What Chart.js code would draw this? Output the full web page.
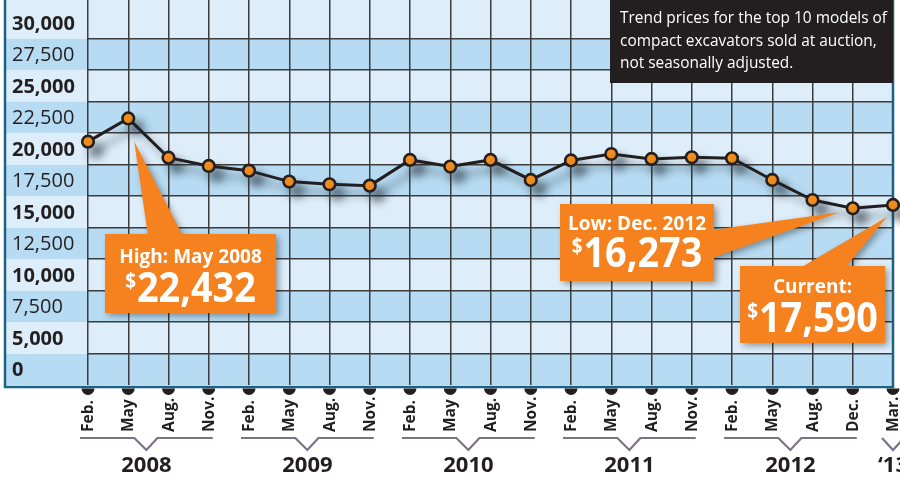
<!DOCTYPE html>
<html>
<head>
<meta charset="utf-8">
<script src="https://cdn.jsdelivr.net/npm/chart.js@4.4.1/dist/chart.umd.min.js"></script>
<style>
  html, body { margin: 0; padding: 0; background: #fff; }
</style>
</head>
<body>
<canvas id="trendChart" width="900" height="478"></canvas>
<script>
// month ticks along the bottom, one per quarterly report
var monthLabels = ['Feb.', 'May', 'Aug.', 'Nov.',
                   'Feb.', 'May', 'Aug.', 'Nov.',
                   'Feb.', 'May', 'Aug.', 'Nov.',
                   'Feb.', 'May', 'Aug.', 'Nov.',
                   'Feb.', 'May', 'Aug.', 'Dec.',
                   'Mar.'];
var yearLabels = ['2008', '2009', '2010', '2011', '2012', '\u201813'];
var monthsPerYear = [4, 4, 4, 4, 4, 1];

// trend price in dollars
var trendPrices = [20560, 22400, 19290, 18630, 18260, 17390, 17180, 17070,
                   19110, 18580, 19110, 17520, 19070, 19580, 19190, 19320,
                   19240, 17520, 15930, 15270, 15540];

// each label sits in the middle of its band (the bottom band is the broken "0")
var yTickValues = [2500, 5000, 7500, 10000, 12500, 15000, 17500, 20000, 22500, 25000, 27500, 30000];
var yTickLabels = ['0', '5,000', '7,500', '10,000', '12,500', '15,000', '17,500', '20,000', '22,500', '25,000', '27,500', '30,000'];

var noteLines = ['Trend prices for the top 10 models of',
                 'compact excavators sold at auction,',
                 'not seasonally adjusted.'];

var calloutTitles = ['High: May 2008', 'Low: Dec. 2012', 'Current:'];
var calloutAmounts = ['22,432', '16,273', '17,590'];
var calloutIndex = [1, 19, 20];

var DARK = '#231f20';
var ORANGE = '#f5821f';
var TEAL = '#1c6282';
var FONT = '"Open Sans", "Noto Sans", sans-serif';
var HALF_BAND = 1250;

// band edges are where the grid lines go
var bandEdges = yTickValues.slice(0, -1).map(function(v) { return v + HALF_BAND; });

var bandsPlugin = {
  id: 'bands',
  beforeDraw: function(chart) {
    var c = chart.ctx, area = chart.chartArea, y = chart.scales.y;
    c.save();
    c.fillStyle = '#ffffff';
    c.fillRect(0, 0, chart.width, chart.height);
    yTickValues.forEach(function(v, i) {
      var top = i === yTickValues.length - 1 ? area.top : y.getPixelForValue(v + HALF_BAND);
      var bottom = y.getPixelForValue(v - HALF_BAND);
      c.fillStyle = i % 2 === 0 ? '#b7dbf2' : '#ddeefa';
      c.fillRect(5, top, area.right - 5, bottom - top);
    });
    c.restore();
  }
};

// frame + soft shadow under the line
var frameShadowPlugin = {
  id: 'frameShadow',
  beforeDatasetsDraw: function(chart) {
    var c = chart.ctx, area = chart.chartArea;
    c.save();
    c.strokeStyle = TEAL;
    c.lineWidth = 2.5;
    c.beginPath();
    c.moveTo(5, 0);
    c.lineTo(5, area.bottom + 2);
    c.lineTo(area.right, area.bottom + 2);
    c.lineTo(area.right, 0);
    c.stroke();
    // black half dots under each tick
    c.fillStyle = DARK;
    chart.scales.x.ticks.forEach(function(t, i) {
      var x = chart.scales.x.getPixelForValue(i);
      c.beginPath();
      c.arc(x, area.bottom + 3.5, 6.5, 0, Math.PI);
      c.fill();
    });
    c.restore();

    c.save();
    c.shadowColor = 'rgba(30, 40, 50, 0.5)';
    c.shadowBlur = 8;
    c.shadowOffsetX = 8;
    c.shadowOffsetY = 9;
  },
  afterDatasetsDraw: function(chart) {
    chart.ctx.restore();
  }
};

function drawCallout(c, box, tip, base, title, amount, titleDy, amountDy) {
  c.save();
  c.fillStyle = ORANGE;
  c.shadowColor = 'rgba(0, 0, 0, 0.35)';
  c.shadowBlur = 6;
  c.shadowOffsetX = 3;
  c.shadowOffsetY = 3;
  c.beginPath();
  c.rect(box.x, box.y, box.w, box.h);
  c.moveTo(base[0][0], base[0][1]);
  c.lineTo(tip.x, tip.y);
  c.lineTo(base[1][0], base[1][1]);
  c.closePath();
  c.fill();
  c.restore();

  var cx = box.x + box.w / 2;
  c.save();
  c.fillStyle = '#ffffff';
  c.textBaseline = 'alphabetic';
  c.textAlign = 'center';
  c.font = 'bold 19px ' + FONT;
  c.fillText(title, cx, box.y + titleDy);

  c.translate(cx, box.y + amountDy);
  c.scale(0.9, 1);
  c.font = 'bold 21px ' + FONT;
  var wd = c.measureText('$').width;
  c.font = 'bold 42px ' + FONT;
  var wn = c.measureText(amount).width;
  var start = -(wd + 1 + wn) / 2;
  c.textAlign = 'left';
  c.fillText(amount, start + wd + 1, 0);
  c.font = 'bold 21px ' + FONT;
  c.fillText('$', start, -14);
  c.restore();
}

var decorPlugin = {
  id: 'decor',
  afterDraw: function(chart) {
    var c = chart.ctx, area = chart.chartArea;
    var x = chart.scales.x, y = chart.scales.y;
    c.save();

    // y labels inside the bands, bold on the light bands
    c.fillStyle = DARK;
    c.textAlign = 'left';
    c.textBaseline = 'alphabetic';
    yTickValues.forEach(function(v, i) {
      c.font = (i % 2 === 1 || i === 0 ? 'bold 20px ' : '500 20px ') + FONT;
      c.fillText(yTickLabels[i], 12, y.getPixelForValue(v) + 7);
    });

    // rotated month labels
    c.font = 'bold 15.5px ' + FONT;
    monthLabels.forEach(function(lab, i) {
      c.save();
      c.translate(x.getPixelForValue(i), area.bottom + 47);
      c.rotate(-Math.PI / 2);
      c.fillText(lab, 0, 5);
      c.restore();
    });

    // year brackets
    var first = 0;
    yearLabels.forEach(function(yr, k) {
      var last = first + monthsPerYear[k] - 1;
      var x0 = x.getPixelForValue(first), x1 = x.getPixelForValue(last);
      var left = x0 - 8, right = x1 + 4;
      var mid = monthsPerYear[k] > 1 ? (left + right) / 2 : x0;
      var top = area.bottom + 53;
      c.strokeStyle = '#7d7186';
      c.lineWidth = 2.2;
      c.beginPath();
      if (monthsPerYear[k] > 1) {
        c.moveTo(left, top);
        c.lineTo(mid - 12, top);
      } else {
        c.moveTo(mid - 11, top);
      }
      c.lineTo(mid, top + 12);
      c.lineTo(mid + 11, top);
      if (monthsPerYear[k] > 1) c.lineTo(right, top);
      c.stroke();
      c.fillStyle = DARK;
      c.font = 'bold 22px ' + FONT;
      c.textAlign = 'center';
      c.fillText(yr, mid, area.bottom + 87);
      first = last + 1;
    });

    // note box, top right
    c.fillStyle = DARK;
    c.fillRect(610, 0, 283, 83);
    c.fillStyle = '#ffffff';
    c.font = '17px ' + FONT;
    c.textAlign = 'left';
    var sx = 267 / c.measureText(noteLines[0]).width;
    noteLines.forEach(function(line, i) {
      c.save();
      c.translate(620, 23 + i * 22.5);
      c.scale(sx, 1);
      c.fillText(line, 0, 0);
      c.restore();
    });

    // callouts pointing at high, low and current
    var pts = chart.getDatasetMeta(0).data;
    var p = pts[calloutIndex[0]];
    drawCallout(c, {x: 105, y: 234, w: 171, h: 79}, {x: p.x + 6, y: p.y + 23},
      [[148, 236], [183, 236]], calloutTitles[0], calloutAmounts[0], 29, 68);
    p = pts[calloutIndex[1]];
    drawCallout(c, {x: 560, y: 204, w: 154, h: 77}, {x: p.x - 13, y: p.y + 4},
      [[712, 230], [712, 258]], calloutTitles[1], calloutAmounts[1], 26, 63);
    p = pts[calloutIndex[2]];
    drawCallout(c, {x: 740, y: 266, w: 145, h: 77}, {x: p.x - 6, y: p.y + 12},
      [[800, 268], [845, 268]], calloutTitles[2], calloutAmounts[2], 27, 66);

    c.restore();
  }
};

var ctx = document.getElementById('trendChart').getContext('2d');
new Chart(ctx, {
  type: 'line',
  data: {
    labels: monthLabels,
    datasets: [{
      data: trendPrices,
      borderColor: DARK,
      borderWidth: 3,
      tension: 0,
      pointRadius: 5.8,
      pointBorderWidth: 2.6,
      pointBackgroundColor: '#f7901e',
      pointBorderColor: DARK,
      clip: false
    }]
  },
  options: {
    responsive: false,
    animation: false,
    layout: { autoPadding: false, padding: { left: 88, right: 7, top: 0, bottom: 93 } },
    plugins: {
      legend: { display: false },
      tooltip: { enabled: false }
    },
    scales: {
      x: {
        offset: false,
        grid: { color: '#3c3c3c', lineWidth: 1.5, drawTicks: false },
        border: { display: false },
        ticks: { display: false }
      },
      y: {
        min: 1250,
        max: 31800,
        afterBuildTicks: function(axis) {
          axis.ticks = bandEdges.map(function(v) { return { value: v }; });
        },
        grid: { color: '#3c3c3c', lineWidth: 1.5, drawTicks: false },
        border: { display: false },
        ticks: { display: false }
      }
    }
  },
  plugins: [bandsPlugin, frameShadowPlugin, decorPlugin]
});
</script>
</body>
</html>
